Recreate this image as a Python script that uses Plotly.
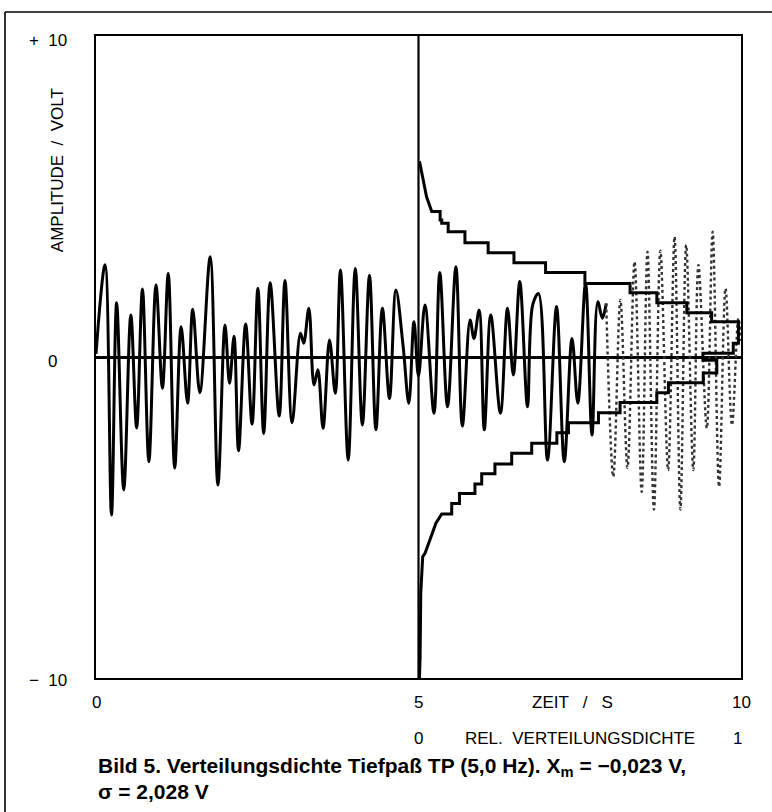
import plotly.graph_objects as go

# ---- signal: time (s) and amplitude (V) of the turning points ----
sig_t = [0.00, 0.14, 0.24, 0.32, 0.43, 0.54, 0.63, 0.72, 0.82, 0.93, 1.03, 1.12, 1.22, 1.32,
         1.42, 1.50, 1.61, 1.77, 1.89, 2.00, 2.07, 2.14, 2.21, 2.32, 2.42, 2.51, 2.60, 2.70,
         2.84, 2.93, 3.04, 3.17, 3.22, 3.30, 3.38, 3.44, 3.52, 3.62, 3.71, 3.79, 3.91, 4.02,
         4.13, 4.24, 4.34, 4.44, 4.55, 4.65, 4.76, 4.85, 4.93, 5.00, 5.10, 5.24, 5.33, 5.45,
         5.58, 5.68, 5.80, 5.86, 5.94, 6.02, 6.12, 6.27, 6.38, 6.47, 6.57, 6.69, 6.77, 6.86,
         7.00, 7.14, 7.26, 7.38, 7.47, 7.59, 7.69, 7.78, 7.85, 7.91]
sig_v = [0.10, 2.87, -4.92, 1.69, -4.14, 1.31, -2.21, 2.12, -3.26, 2.24, -0.97, 2.60, -3.46, 0.94,
         -1.44, 1.49, -1.11, 3.12, -3.99, 1.00, -0.82, 0.65, -2.92, 1.03, -2.09, 2.14, -2.38, 2.31,
         -1.84, 2.38, -2.05, 0.74, 0.43, 1.52, -0.87, -0.40, -2.22, 0.53, -1.13, 2.71, -3.21, 2.76,
         -2.12, 2.55, -2.27, 1.52, -1.29, 2.09, 0.37, -1.44, 1.10, -0.60, 1.62, -1.75, 2.63, -1.55,
         2.81, -2.15, 1.15, 0.58, 1.46, -2.27, 1.31, -1.75, 1.52, -0.56, 2.35, -1.55, 1.62, 1.98,
         -3.21, 1.57, -3.26, 0.58, -1.44, 2.30, -2.43, 1.72, 1.21, 1.67]
# faint (fast-written) end of the trace
sig2_t = [7.91, 8.02, 8.13, 8.24, 8.35, 8.46, 8.55, 8.65, 8.75, 8.87, 8.97, 9.06, 9.15, 9.26,
          9.34, 9.47, 9.56, 9.66, 9.76, 9.86, 9.96, 10.0]
sig2_v = [1.67, -3.73, 1.78, -3.45, 2.97, -4.20, 3.28, -4.75, 3.31, -3.52, 3.75, -4.75, 3.49,
          -3.52, 2.87, -2.22, 3.90, -4.04, 2.14, -2.12, 1.20, 0.50]

# ---- relative distribution density (0..1), drawn from t = 5 (density 0) to t = 10 (density 1) ----
tail_top_v = [6.10, 5.72, 4.99, 4.53]
tail_top_d = [0.003, 0.010, 0.025, 0.041]
bin_hi = [4.53, 4.27, 4.17, 3.90, 3.56, 3.25, 2.94, 2.63, 2.29, 2.00, 1.69, 1.38, 1.10, 0.43,
          0.12, -0.10, -0.50, -0.80, -1.11, -1.42, -1.74, -2.05, -2.36, -2.69, -3.00, -3.33,
          -3.64, -3.96, -4.25, -4.56]
bin_lo = [4.27, 4.17, 3.90, 3.56, 3.25, 2.94, 2.63, 2.29, 2.00, 1.69, 1.38, 1.10, 0.43, 0.12,
          -0.10, -0.50, -0.80, -1.11, -1.42, -1.74, -2.05, -2.36, -2.69, -3.00, -3.33, -3.64,
          -3.96, -4.25, -4.56, -4.89]
bin_d = [0.067, 0.072, 0.092, 0.144, 0.216, 0.296, 0.394, 0.516, 0.656, 0.739, 0.832, 0.909,
         0.992, 0.976, 0.882, 0.925, 0.883, 0.775, 0.739, 0.625, 0.558, 0.465, 0.429, 0.351,
         0.289, 0.237, 0.196, 0.175, 0.127, 0.103]
tail_bot_v = [-4.89, -5.18, -5.54, -6.12, -6.22, -7.36, -9.33, -10.0]
tail_bot_d = [0.072, 0.054, 0.041, 0.020, 0.013, 0.007, 0.005, 0.003]

x_ticks = [0, 5, 10]
x_ticktext = ["0", "5", "10"]
y_ticks = [10, 0, -10]
y_ticktext = ["+  10", "0", "\u2212  10"]

FONT = "Liberation Sans, Arial, sans-serif"
LBL = dict(family=FONT, size=17, color="black")

# build density path (density axis mapped onto time axis 5..10)
dpath_d, dpath_v = [], []
dpath_d += tail_top_d
dpath_v += tail_top_v
for hi, lo, d in zip(bin_hi, bin_lo, bin_d):
    dpath_d += [d, d]
    dpath_v += [hi, lo]
dpath_d += tail_bot_d
dpath_v += tail_bot_v
dens_x = [5 + 5 * d for d in dpath_d]

fig = go.Figure()
fig.add_trace(go.Scatter(x=sig_t, y=sig_v, mode="lines",
                         line=dict(color="black", width=3, shape="spline", smoothing=1.0),
                         hoverinfo="skip"))
fig.add_trace(go.Scatter(x=sig2_t, y=sig2_v, mode="lines",
                         line=dict(color="#333333", width=2.4, shape="spline", smoothing=1.0,
                                   dash="dot"),
                         hoverinfo="skip"))
fig.add_trace(go.Scatter(x=dens_x, y=dpath_v, mode="lines",
                         line=dict(color="black", width=3),
                         hoverinfo="skip"))

# vertical line at t = 5 (density origin)
fig.add_shape(type="line", xref="x", yref="y", x0=5, x1=5, y0=-10, y1=10,
              line=dict(color="black", width=2.2))

# outer frame of the figure
fig.add_shape(type="line", xref="paper", yref="paper", x0=-0.1411, x1=1.05, y0=1.0374, y1=1.0374,
              line=dict(color="black", width=1.6))
fig.add_shape(type="line", xref="paper", yref="paper", x0=-0.1411, x1=-0.1411, y0=1.0374, y1=-0.22,
              line=dict(color="black", width=1.6))

ann = []
# y tick labels
for v, txt in zip(y_ticks, y_ticktext):
    ann.append(dict(x=-0.075 if v != 0 else -0.068, xref="paper", y=v, yref="y", text=txt,
                    yshift=-4 if v != -10 else -2,
                    showarrow=False, xanchor="center", yanchor="middle", font=LBL))
# x tick labels (time)
for t, txt in zip(x_ticks, x_ticktext):
    ann.append(dict(x=t, xref="x", y=-0.0374, yref="paper", text=txt, showarrow=False,
                    xanchor="center", yanchor="middle", font=LBL))
ann.append(dict(x=7.38, xref="x", y=-0.0374, yref="paper", text="ZEIT   /   S", showarrow=False,
                xanchor="center", yanchor="middle", font=LBL))
# density axis labels
ann.append(dict(x=5, xref="x", y=-0.095, yref="paper", text="0", showarrow=False,
                xanchor="center", yanchor="middle", font=LBL))
ann.append(dict(x=9.95, xref="x", y=-0.095, yref="paper", text="1", showarrow=False,
                xanchor="center", yanchor="middle", font=LBL))
ann.append(dict(x=7.5, xref="x", y=-0.095, yref="paper", text="REL.  VERTEILUNGSDICHTE",
                showarrow=False, xanchor="center", yanchor="middle", font=LBL))
# y axis title
ann.append(dict(x=-0.0605, xref="paper", y=0.791, yref="paper", text="AMPLITUDE  /  VOLT",
                textangle=-90, showarrow=False, xanchor="center", yanchor="middle", font=LBL))
# caption
CAP = dict(family=FONT, size=21, color="black")
ann.append(dict(x=0.0, xref="paper", y=-0.1386, yref="paper",
                text="<b>Bild 5. Verteilungsdichte Tiefpaß TP (5,0 Hz). X<sub>m</sub> = \u22120,023 V,</b>",
                showarrow=False, xanchor="left", yanchor="middle", font=CAP))
ann.append(dict(x=0.0, xref="paper", y=-0.177, yref="paper",
                text="<b>\u03c3 = 2,028 V</b>",
                showarrow=False, xanchor="left", yanchor="middle", font=CAP))

fig.update_layout(
    width=772, height=812,
    margin=dict(l=96, r=31, t=36, b=134),
    paper_bgcolor="white", plot_bgcolor="white",
    showlegend=False,
    annotations=ann,
    xaxis=dict(range=[0, 10], showgrid=False, zeroline=False, showticklabels=False,
               ticks="", showline=True, linecolor="black", linewidth=2.2, mirror=True),
    yaxis=dict(range=[-10, 10], showgrid=False, zeroline=True, zerolinecolor="black",
               zerolinewidth=3, showticklabels=False, ticks="", showline=True,
               linecolor="black", linewidth=2.2, mirror=True),
)

fig.write_html("out.html")
